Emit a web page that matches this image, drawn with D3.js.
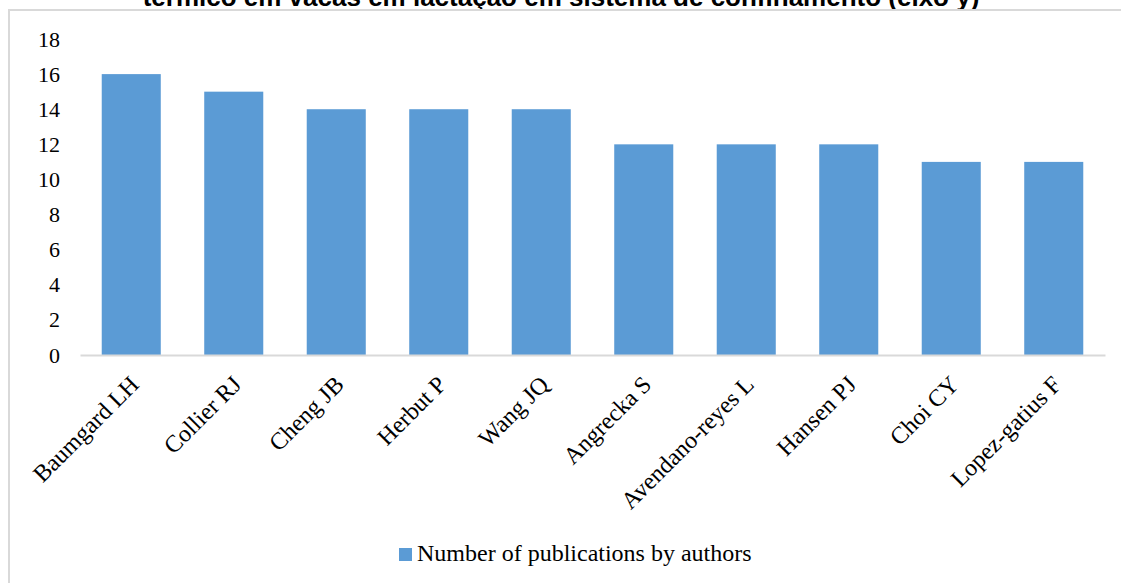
<!DOCTYPE html>
<html>
<head>
<meta charset="utf-8">
<script src="https://cdn.jsdelivr.net/npm/d3@7"></script>
<style>
  body { margin: 0; background: #fff; }
  svg { display: block; }
</style>
</head>
<body>
<script>
// data
var authors = ["Baumgard LH", "Collier RJ", "Cheng JB", "Herbut P", "Wang JQ",
    "Angrecka S", "Avendano-reyes L", "Hansen PJ", "Choi CY", "Lopez-gatius F"];
var publications = [16, 15, 14, 14, 14, 12, 12, 12, 11, 11];
var yTicks = [0, 2, 4, 6, 8, 10, 12, 14, 16, 18];
var seriesName = "Number of publications by authors";
var titleText = "térmico em vacas em lactação em sistema de confinamento (eixo y)";

var width = 1121,
    height = 583;
var plot = { left: 80, right: 1105, top: 39, bottom: 355 };
var barColor = "#5b9bd5",
    lineColor = "#d9d9d9",
    serif = "'Liberation Serif', 'Times New Roman', serif";

var svg = d3.select("body")
    .append("svg")
    .attr("width", width)
    .attr("height", height);

// title of the figure, cut by the top edge of the picture
svg.append("text")
    .attr("x", 561)
    .attr("y", 6)
    .attr("text-anchor", "middle")
    .style("font", "bold 26px 'Liberation Sans', Arial, sans-serif")
    .attr("fill", "#000")
    .text(titleText);

// chart frame (left and top edges only visible)
svg.append("path")
    .attr("d", "M9,583 V10 H1121")
    .attr("fill", "none")
    .attr("stroke", lineColor)
    .attr("stroke-width", 2);

var x = d3.scaleBand()
    .domain(authors)
    .range([plot.left, plot.right])
    .paddingInner(0.424)
    .paddingOuter(0.212);

var y = d3.scaleLinear()
    .domain([0, 18])
    .range([plot.bottom, plot.top]);

// y axis labels, no line
var yAxis = svg.append("g")
    .attr("transform", "translate(" + 60 + ",0)")
    .call(d3.axisLeft(y).tickValues(yTicks).tickSize(0).tickPadding(0));
yAxis.select(".domain").remove();
yAxis.selectAll("text")
    .style("font", "22px " + serif)
    .attr("fill", "#000");

// bars
svg.append("g")
    .selectAll("rect")
    .data(publications)
    .join("rect")
    .attr("x", function (d, i) { return x(authors[i]); })
    .attr("y", function (d) { return y(d); })
    .attr("width", x.bandwidth())
    .attr("height", function (d) { return y(0) - y(d); })
    .attr("fill", barColor);

// x axis
var xAxis = svg.append("g")
    .attr("transform", "translate(0," + plot.bottom + ")")
    .call(d3.axisBottom(x).tickSize(0).tickPadding(0));
xAxis.select(".domain")
    .attr("stroke", lineColor)
    .attr("stroke-width", 2);
xAxis.selectAll("text")
    .style("font", "24px " + serif)
    .attr("fill", "#000")
    .attr("text-anchor", "end")
    .attr("dy", 0)
    .attr("transform", "translate(9,31) rotate(-45)");

// legend
var legend = svg.append("g")
    .attr("transform", "translate(399,548)");
legend.append("rect")
    .attr("width", 13)
    .attr("height", 13)
    .attr("fill", barColor);
legend.append("text")
    .attr("x", 18)
    .attr("y", 13)
    .style("font", "24px " + serif)
    .attr("fill", "#000")
    .text(seriesName);
</script>
</body>
</html>
